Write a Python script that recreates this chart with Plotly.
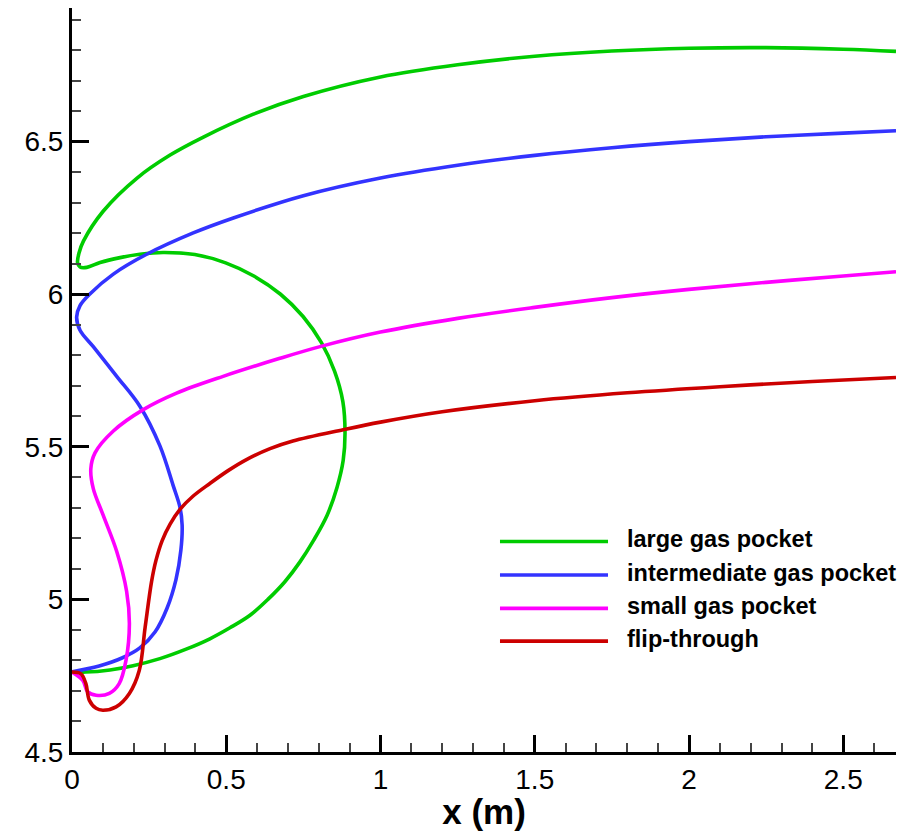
import plotly.graph_objects as go

# ---- data ----
large_x = [0.000, 0.045, 0.123, 0.198, 0.285, 0.370, 0.447, 0.512, 0.577, 0.635, 0.690, 0.739,
           0.784, 0.827, 0.859, 0.879, 0.885, 0.878, 0.851, 0.808, 0.749, 0.676, 0.591, 0.498,
           0.398, 0.295, 0.220, 0.156, 0.091, 0.048, 0.026, 0.018, 0.023, 0.037,
           0.101, 0.210, 0.318, 0.426, 0.588, 0.750, 1.000, 1.250, 1.500, 1.750, 2.000, 2.250,
           2.500, 2.671]
large_y = [4.763, 4.762, 4.769, 4.783, 4.806, 4.837, 4.871, 4.907, 4.948, 5.000, 5.058, 5.123,
           5.195, 5.276, 5.367, 5.455, 5.545, 5.648, 5.748, 5.842, 5.927, 6.000, 6.059, 6.103,
           6.130, 6.137, 6.131, 6.120, 6.104, 6.088, 6.089, 6.104, 6.136, 6.174,
           6.272, 6.380, 6.456, 6.515, 6.590, 6.648, 6.712, 6.752, 6.780, 6.797, 6.806, 6.808,
           6.803, 6.796]

inter_x = [0.000, 0.088, 0.162, 0.220, 0.269, 0.308, 0.337, 0.353, 0.357, 0.350, 0.328, 0.285,
           0.220, 0.145, 0.069, 0.026, 0.015, 0.026, 0.058, 0.134, 0.242, 0.393, 0.523, 0.750,
           1.000, 1.250, 1.500, 1.750, 2.000, 2.250, 2.500, 2.671]
inter_y = [4.763, 4.782, 4.808, 4.841, 4.893, 4.971, 5.065, 5.162, 5.244, 5.302, 5.373, 5.503,
           5.633, 5.731, 5.828, 5.882, 5.925, 5.963, 6.001, 6.066, 6.131, 6.201, 6.250, 6.323,
           6.381, 6.423, 6.455, 6.480, 6.500, 6.516, 6.528, 6.536]

small_x = [0.000, 0.035, 0.051, 0.078, 0.121, 0.153, 0.175, 0.186, 0.177, 0.145, 0.101, 0.069,
           0.061, 0.075, 0.134, 0.231, 0.339, 0.490, 0.674, 0.810, 1.000, 1.250, 1.500, 1.750,
           2.000, 2.250, 2.500, 2.671]
small_y = [4.762, 4.735, 4.697, 4.686, 4.692, 4.724, 4.800, 4.919, 5.027, 5.157, 5.276, 5.363,
           5.428, 5.481, 5.552, 5.622, 5.676, 5.731, 5.790, 5.830, 5.876, 5.921, 5.957, 5.989,
           6.016, 6.039, 6.060, 6.074]

flip_x = [0.000, 0.029, 0.045, 0.056, 0.078, 0.100, 0.143, 0.186, 0.218, 0.237, 0.258, 0.272,
          0.292, 0.318, 0.350, 0.392, 0.447, 0.506, 0.567, 0.642, 0.716, 0.879, 1.000, 1.200,
          1.500, 1.800, 2.100, 2.400, 2.671]
flip_y = [4.762, 4.756, 4.724, 4.670, 4.643, 4.637, 4.648, 4.692, 4.767, 4.908, 5.059, 5.127,
          5.192, 5.247, 5.295, 5.338, 5.380, 5.422, 5.459, 5.494, 5.519, 5.556, 5.581, 5.615,
          5.651, 5.677, 5.697, 5.714, 5.727]

series_names = ["large gas pocket", "intermediate gas pocket", "small gas pocket", "flip-through"]
series_colors = ["#00CC00", "#3333FF", "#FF00FF", "#CC0000"]
series_x = [large_x, inter_x, small_x, flip_x]
series_y = [large_y, inter_y, small_y, flip_y]

x_range = [0, 2.671]
y_range = [4.5, 6.938]

fig = go.Figure()
for name, col, xs, ys in zip(series_names, series_colors, series_x, series_y):
    fig.add_trace(go.Scatter(x=xs, y=ys, mode="lines", name=name,
                             line=dict(color=col, width=3.6, shape="spline", smoothing=1.0),
                             showlegend=False))

# manual legend (long sample lines like the original)
leg_rows = [0.2830, 0.2380, 0.1930, 0.1490]
for name, col, yy in zip(series_names, series_colors, leg_rows):
    fig.add_shape(type="line", xref="paper", yref="paper", x0=0.5194, x1=0.6505,
                  y0=yy, y1=yy, line=dict(color=col, width=3.6))
    fig.add_annotation(xref="paper", yref="paper", x=0.6715, y=yy + 0.003, text=name,
                       showarrow=False, xanchor="left", yanchor="middle",
                       font=dict(family="Liberation Sans, Arial", size=23.5, color="black", weight="bold"))

axis_common = dict(showline=True, linecolor="black", linewidth=3, mirror=False,
                   ticks="inside", ticklen=17, tickwidth=3, tickcolor="black",
                   showgrid=False, zeroline=False,
                   tickfont=dict(family="Liberation Sans, Arial", size=28, color="black"))

fig.update_xaxes(range=x_range, dtick=0.5, tick0=0,
                 minor=dict(ticks="inside", ticklen=9, tickwidth=1.5, tickcolor="#444", dtick=0.1, showgrid=False),
                 title=dict(text="x (m)", standoff=4,
                            font=dict(family="Liberation Sans, Arial", size=35, color="black", weight="bold")),
                 **axis_common)
fig.update_yaxes(range=y_range, dtick=0.5, tick0=4.5,
                 minor=dict(ticks="inside", ticklen=9, tickwidth=1.5, tickcolor="#444", dtick=0.1, showgrid=False),
                 **axis_common)

fig.update_layout(width=912, height=831, autosize=False,
                  margin=dict(l=72, r=16, t=8, b=72),
                  paper_bgcolor="white", plot_bgcolor="white",
                  showlegend=False)

fig.write_html("out.html")
